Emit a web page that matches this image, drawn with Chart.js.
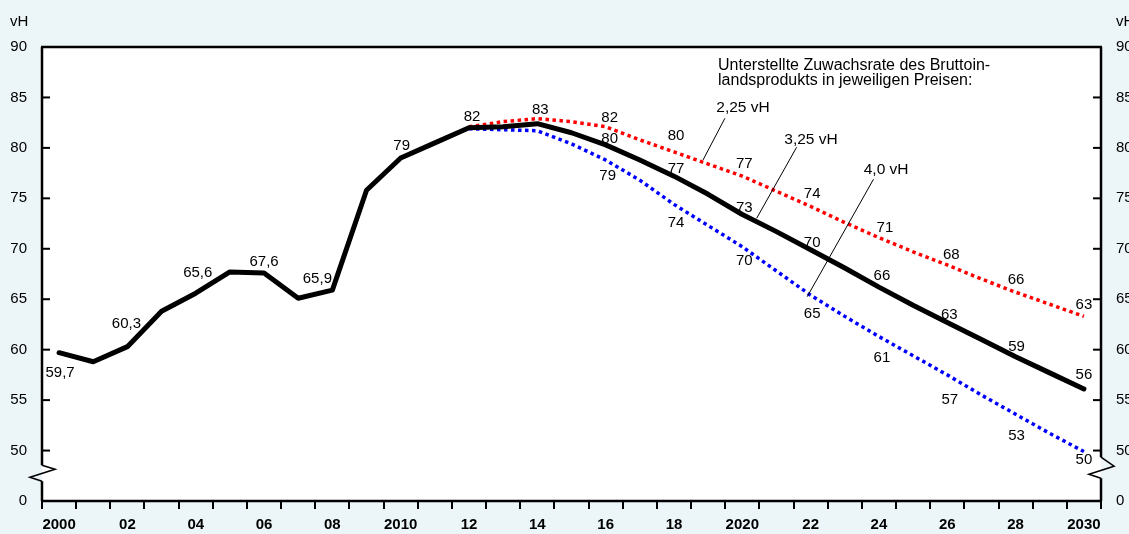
<!DOCTYPE html>
<html><head><meta charset="utf-8">
<script src="https://cdn.jsdelivr.net/npm/chart.js@4"></script>
<style>html,body{margin:0;padding:0;background:#ECF5F8;} #wrap{width:1129px;height:534px;position:relative;overflow:hidden}</style>
</head><body><div id="wrap"><canvas id="c" width="1129" height="534"></canvas></div>
<script>
// ---- data ----
const years = [2000,2001,2002,2003,2004,2005,2006,2007,2008,2009,2010,2011,2012,2013,2014,2015,2016,2017,2018,2019,2020,2021,2022,2023,2024,2025,2026,2027,2028,2029,2030];
const tickLabels = ["2000","","02","","04","","06","","08","","2010","","12","","14","","16","","18","","2020","","22","","24","","26","","28","","2030"];
const yTickValues = [45,50,55,60,65,70,75,80,85,90];
const yTickTexts  = ["0","50","55","60","65","70","75","80","85","90"];
// 3,25 vH (incl. actual values up to 2012)
const growth325 = [59.7,58.8,60.3,63.8,65.6,67.7,67.6,65.1,65.9,75.8,79.0,80.5,82.0,82.1,82.4,81.5,80.3,78.8,77.2,75.4,73.4,71.7,69.9,68.1,66.2,64.4,62.7,61.0,59.3,57.7,56.1];
const growth225 = [null,null,null,null,null,null,null,null,null,null,null,null,82.1,82.6,82.9,82.6,82.1,80.8,79.6,78.4,77.2,75.7,74.2,72.6,71.1,69.7,68.4,67.0,65.7,64.5,63.3];
const growth40  = [null,null,null,null,null,null,null,null,null,null,null,null,81.9,81.8,81.7,80.4,78.8,76.8,74.4,72.3,70.2,67.8,65.4,63.3,61.3,59.4,57.5,55.5,53.6,51.7,49.9];
const labels325 = ["59,7","","60,3","","65,6","","67,6","","65,9","","79","","82","","","","80","","77","","73","","70","","66","","63","","59","","56"];
const labels225 = ["","","","","","","","","","","","","","","83","","82","","80","","77","","74","","71","","68","","66","","63"];
const labels40  = ["","","","","","","","","","","","","","","","","79","","74","","70","","65","","61","","57","","53","","50"];
const legendTitle = ["Unterstellte Zuwachsrate des Bruttoin-","landsprodukts in jeweiligen Preisen:"];
const seriesNames = ["3,25 vH","2,25 vH","4,0 vH"];
const unit = "vH";

// ---- styling / placement (pixel offsets of value labels from their points) ----
const off325 = {0:[1,20],2:[-1,-23],4:[2,-20],6:[0,-11],8:[-15,-11],10:[1,-12],12:[3,-11],16:[4,-6],18:[2,-7],20:[2,-7],22:[1.5,-7],24:[3,-11],26:[2,-8],28:[1,-10],30:[0,-14]};
const off225 = {14:[3,-9],16:[4,-9],18:[2,-16],20:[2,-12],22:[1.5,-12.5],24:[6,-10],26:[4,-10.5],28:[0.5,-12.5],30:[0,-12]};
const off40  = {16:[2,16],18:[2,18],20:[2,14],22:[1.5,19],24:[3,21],26:[2.5,25],28:[1,22],30:[0,8]};
// annotation anchors in data units: [categoryIndex, value]
const notes = [
  {name:1, text:[20.02,83.95], from:[19.49,82.93], to:[18.85,78.80]},
  {name:0, text:[22.01,80.78], from:[21.59,80.06], to:[20.42,73.02]},
  {name:2, text:[24.21,77.81], from:[23.84,76.89], to:[21.90,65.25]}
];
const titleAnchor = [19.29, 88.2];

const FONT = '"Liberation Sans", Arial, Helvetica, sans-serif';

const deco = {
  id:'deco',
  beforeDraw(chart){
    const {ctx, chartArea:a} = chart;
    ctx.save(); ctx.fillStyle='#fff'; ctx.fillRect(a.left,a.top,a.right-a.left,a.bottom-a.top); ctx.restore();
  },
  afterDraw(chart){
    const {ctx, chartArea:a, scales} = chart;
    const xs = scales.x, ys = scales.y;
    ctx.save();
    // inward y ticks
    ctx.strokeStyle='#000'; ctx.lineWidth=2;
    yTickValues.forEach(v=>{
      if(v===45||v===90) return;
      const y = ys.getPixelForValue(v);
      ctx.beginPath(); ctx.moveTo(a.left,y); ctx.lineTo(a.left+8,y); ctx.stroke();
      ctx.beginPath(); ctx.moveTo(a.right-8,y); ctx.lineTo(a.right,y); ctx.stroke();
    });
    // frame with breaks
    const y50 = ys.getPixelForValue(50), y0 = ys.getPixelForValue(45);
    const b1 = y50 + (y0-y50)*0.29;
    ctx.lineWidth=2.5; ctx.lineCap='butt';
    ctx.beginPath(); ctx.moveTo(a.left-1,a.top); ctx.lineTo(a.right+1,a.top); ctx.stroke();
    ctx.beginPath(); ctx.moveTo(a.left-1,a.bottom); ctx.lineTo(a.right+1,a.bottom); ctx.stroke();
    ctx.beginPath(); ctx.moveTo(a.left,a.top); ctx.lineTo(a.left,b1); ctx.stroke();
    ctx.beginPath(); ctx.moveTo(a.left,b1+16); ctx.lineTo(a.left,a.bottom); ctx.stroke();
    ctx.beginPath(); ctx.moveTo(a.right,a.top); ctx.lineTo(a.right,b1-8); ctx.stroke();
    ctx.beginPath(); ctx.moveTo(a.right,b1+13); ctx.lineTo(a.right,a.bottom); ctx.stroke();
    ctx.lineWidth=1.6; ctx.lineJoin='miter';
    ctx.beginPath(); ctx.moveTo(a.left,b1); ctx.lineTo(a.left+13,b1+4); ctx.lineTo(a.left-12,b1+12); ctx.lineTo(a.left,b1+16); ctx.stroke();
    ctx.beginPath(); ctx.moveTo(a.right,b1-8); ctx.lineTo(a.right+13,b1+1); ctx.lineTo(a.right-12,b1+9); ctx.lineTo(a.right,b1+13); ctx.stroke();
    // unit labels
    ctx.fillStyle='#000'; ctx.font='15px '+FONT; ctx.textBaseline='middle'; ctx.textAlign='left';
    ctx.fillText(unit, 10, 22); ctx.fillText(unit, a.right+15, 22);
    // value labels
    ctx.textAlign='center';
    const drawLabels=(vals,texts,offs)=>{
      texts.forEach((t,i)=>{
        if(!t) return; const o=offs[i]||[0,-10];
        ctx.fillText(t, xs.getPixelForValue(i)+o[0], ys.getPixelForValue(vals[i])+o[1]);
      });
    };
    drawLabels(growth325,labels325,off325);
    drawLabels(growth225,labels225,off225);
    drawLabels(growth40,labels40,off40);
    // legend title
    ctx.textAlign='left'; ctx.font='16px '+FONT;
    const tx = xs.getPixelForValue(titleAnchor[0]), ty = ys.getPixelForValue(titleAnchor[1]);
    ctx.fillText(legendTitle[0], tx, ty); ctx.fillText(legendTitle[1], tx, ty+15);
    // series annotations
    ctx.font='15.5px '+FONT; ctx.textAlign='center'; ctx.lineWidth=1;
    notes.forEach(n=>{
      ctx.fillText(seriesNames[n.name], xs.getPixelForValue(n.text[0]), ys.getPixelForValue(n.text[1]));
      ctx.beginPath(); ctx.moveTo(xs.getPixelForValue(n.from[0]), ys.getPixelForValue(n.from[1]));
      ctx.lineTo(xs.getPixelForValue(n.to[0]), ys.getPixelForValue(n.to[1])); ctx.stroke();
    });
    ctx.restore();
  }
};

new Chart(document.getElementById('c'), {
  type:'line',
  data:{
    labels: years,
    datasets:[
      {data:growth325, borderColor:'#000', borderWidth:5, pointRadius:0, borderCapStyle:'round', borderJoinStyle:'round', tension:0, order:0},
      {data:growth225, borderColor:'#FF0000', borderWidth:3.5, borderDash:[3.5,3.5], pointRadius:0, tension:0, order:1, spanGaps:false},
      {data:growth40, borderColor:'#0000FF', borderWidth:3.5, borderDash:[3.5,3.5], pointRadius:0, tension:0, order:2, spanGaps:false}
    ]
  },
  options:{
    responsive:false, animation:false, devicePixelRatio:1,
    layout:{padding:{top:47,left:0,right:0,bottom:0}},
    plugins:{legend:{display:false}, tooltip:{enabled:false}},
    scales:{
      x:{type:'category', offset:true,
         grid:{display:true, offset:true, drawOnChartArea:false, drawTicks:true, tickLength:8, color:'#000', lineWidth:2},
         border:{display:false},
         ticks:{autoSkip:false, maxRotation:0, padding:7, color:'#000', font:{family:FONT,size:15,weight:'bold'},
                callback:(v,i)=>tickLabels[i]},
         afterFit:s=>{s.height=33;}},
      y:{type:'linear', position:'left', min:45, max:90,
         grid:{display:false, drawTicks:false}, border:{display:false},
         ticks:{stepSize:5, padding:15, color:'#000', font:{family:FONT,size:15},
                callback:(v)=>{const k=yTickValues.indexOf(v); return k<0?'':yTickTexts[k];}},
         afterFit:s=>{s.width=42;}},
      y2:{type:'linear', position:'right', min:45, max:90,
         grid:{display:false, drawTicks:false}, border:{display:false},
         ticks:{stepSize:5, padding:15, color:'#000', font:{family:FONT,size:15},
                callback:(v)=>{const k=yTickValues.indexOf(v); return k<0?'':yTickTexts[k];}},
         afterFit:s=>{s.width=28;}}
    }
  },
  plugins:[deco]
});
</script></body></html>
